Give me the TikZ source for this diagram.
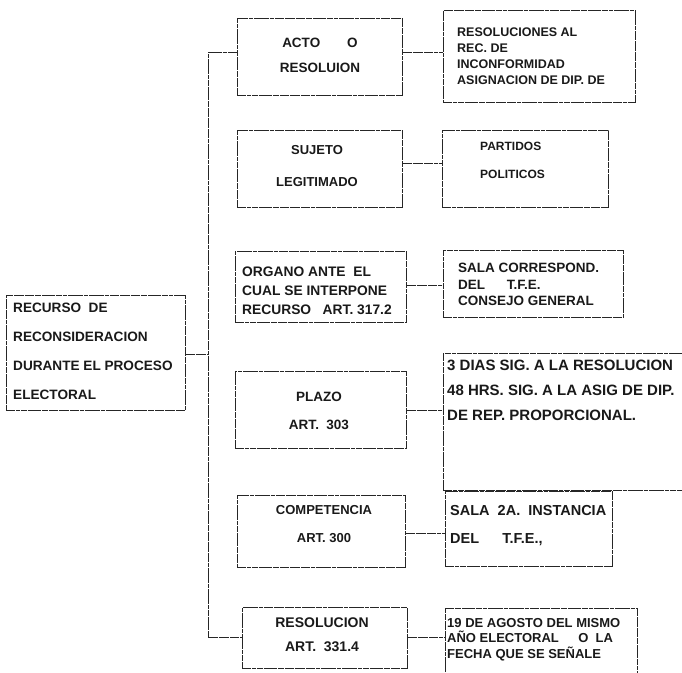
\documentclass[tikz,border=0pt]{standalone}
\usepackage{fontspec}
\setmainfont{Liberation Sans}
\begin{document}
\begin{tikzpicture}[x=1pt,y=-1pt,
  worn/.style={dash pattern=on 9pt off 0.8pt on 4pt off 0.8pt on 6pt off 0.6pt},
  box/.style={draw=black!85, line width=0.75pt, worn, inner sep=0pt, anchor=north west},
  txt/.style={inner sep=0pt, text=black!90},
  link/.style={draw=black!85, line width=0.75pt, worn},
  fs/.style 2 args={font=\fontsize{#1}{#2}\selectfont\bfseries}]
\useasboundingbox (0,0) rectangle (682,672);
% boxes
\node[box, minimum width=179pt, minimum height=115pt] (L) at (6,295) {};
\node[box, minimum width=165pt, minimum height=77pt] (act) at (237,18) {};
\node[box, minimum width=192pt, minimum height=92pt] (r1) at (443,10) {};
\node[box, minimum width=165pt, minimum height=77pt] (suj) at (237,130) {};
\node[box, minimum width=166pt, minimum height=77pt] (par) at (442,130) {};
\node[box, minimum width=171pt, minimum height=71pt] (org) at (235,251) {};
\node[box, minimum width=180pt, minimum height=67pt] (sala) at (443,250) {};
\node[box, minimum width=171pt, minimum height=77pt] (pla) at (235,371) {};
\node[box, minimum width=250pt, minimum height=137pt] (dias) at (443,353) {};
\node[box, minimum width=168pt, minimum height=72pt] (comp) at (237,495) {};
\node[box, minimum width=167pt, minimum height=75pt] (sala2) at (445,491) {};
\node[box, minimum width=165pt, minimum height=61pt] (res) at (242,607) {};
\node[box, minimum width=192pt, minimum height=70pt] (ago) at (445,608) {};
% texts
\node[txt, fs={13.6}{29}, anchor=north west, align=left] (Lt) at (13,303)
  {RECURSO\ \ DE\\RECONSIDERACION\\DURANTE EL PROCESO\\ELECTORAL};
\node[txt, fs={13.5}{25}, anchor=north, align=center] (actt) at (320,38)
  {ACTO\hspace{2em}O\\RESOLUION};
\node[txt, fs={12.5}{15.8}, anchor=north west, align=left] (r1t) at (457,28)
  {RESOLUCIONES AL\\REC. DE\\INCONFORMIDAD\\ASIGNACION DE DIP. DE};
\node[txt, fs={13}{32}, anchor=north, align=center] (sujt) at (317,145)
  {SUJETO\\LEGITIMADO};
\node[txt, fs={12}{28}, anchor=north west, align=left] (part) at (480,142)
  {PARTIDOS\\POLITICOS};
\node[txt, fs={13.8}{19}, anchor=north west, align=left] (orgt) at (242,267)
  {ORGANO ANTE\ \ EL\\CUAL SE INTERPONE\\RECURSO\ \ \ ART. 317.2};
\node[txt, fs={13.5}{16.5}, anchor=north west, align=left] (salat) at (458,263)
  {SALA CORRESPOND.\\DEL\hspace{1.6em}T.F.E.\\CONSEJO GENERAL};
\node[txt, fs={15}{25}, anchor=north west, align=left] (diast) at (447,360)
  {3 DIAS SIG. A LA RESOLUCION\\48 HRS. SIG. A LA ASIG DE DIP.\\DE REP. PROPORCIONAL.};
\node[txt, fs={13.5}{28}, anchor=north, align=center] (plat) at (319,392)
  {PLAZO\\ART.\ \ 303};
\node[txt, fs={13}{28}, anchor=north, align=center] (compt) at (324,505)
  {COMPETENCIA\\ART. 300};
\node[txt, fs={14.5}{28}, anchor=north west, align=left] (sala2t) at (450,505)
  {SALA\ \ 2A.\ \ INSTANCIA\\DEL\hspace{1.6em}T.F.E.,};
\node[txt, fs={14}{24}, anchor=north, align=center] (rest) at (322,618)
  {RESOLUCION\\ART.\ \ 331.4};
\node[txt, fs={13}{15.5}, anchor=north west, align=left] (agot) at (447,618)
  {19 DE AGOSTO DEL MISMO\\AÑO ELECTORAL\hspace{1.5em}O\ \ LA\\FECHA QUE SE SEÑALE};
% connector levels
\coordinate (c1) at (208,52);
\coordinate (c2) at (208,163);
\coordinate (c3) at (208,285);
\coordinate (cm) at (208,354);
\coordinate (c4) at (208,410);
\coordinate (c5) at (208,533);
\coordinate (c6) at (208,637);
% bracket
\draw[link] (act.west |- c1) -- (c1) -- (c6) -- (res.west |- c6);
\draw[link] (L.east |- cm) -- (cm);
% horizontal connectors
\draw[link] (act.east |- c1) -- (r1.west |- c1);
\draw[link] (suj.east |- c2) -- (par.west |- c2);
\draw[link] (org.east |- c3) -- (sala.west |- c3);
\draw[link] (pla.east |- c4) -- (dias.west |- c4);
\draw[link] (comp.east |- c5) -- (sala2.west |- c5);
\draw[link] (res.east |- c6) -- (ago.west |- c6);
\end{tikzpicture}
\end{document}
